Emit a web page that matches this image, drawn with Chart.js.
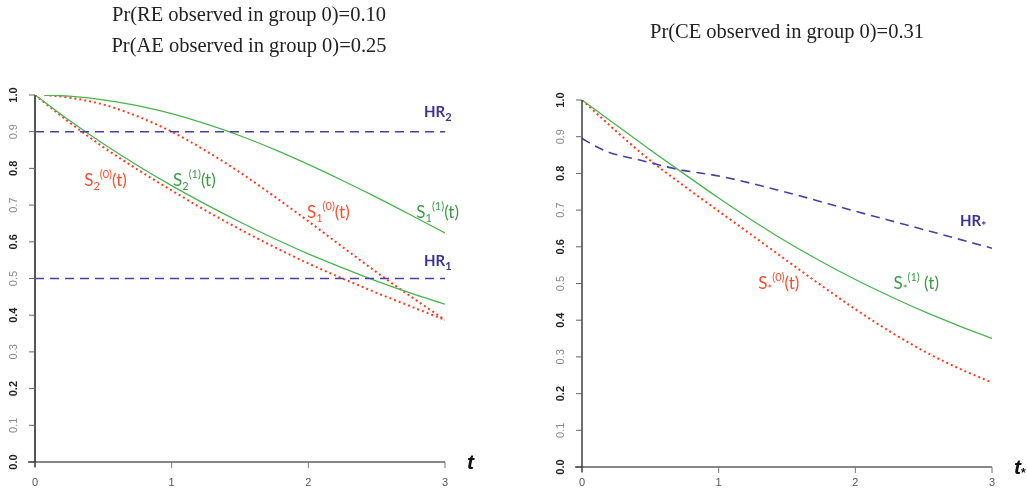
<!DOCTYPE html>
<html><head><meta charset="utf-8">
<script src="https://cdn.jsdelivr.net/npm/chart.js@4/dist/chart.umd.min.js"></script>
<style>
html,body{margin:0;padding:0;background:#fff;width:1027px;height:498px;overflow:hidden}
.box{position:absolute;top:0;height:498px}
</style></head><body>
<div class="box" style="left:0;width:510px"><canvas id="leftChart"></canvas></div>
<div class="box" style="left:520px;width:507px"><canvas id="rightChart"></canvas></div>
<script>
// ---------- data ----------
const tGrid = [0, 0.25, 0.5, 0.75, 1, 1.25, 1.5, 1.75, 2, 2.25, 2.5, 2.75, 3];
const tGridS1 = [0.07, 0.25, 0.5, 0.75, 1, 1.25, 1.5, 1.75, 2, 2.25, 2.5, 2.75, 3];
// left panel
const s1Group1 = [1, 0.997, 0.987, 0.971, 0.949, 0.921, 0.889, 0.852, 0.811, 0.767, 0.721, 0.673, 0.624];
const s1Group0 = [1, 0.993, 0.974, 0.942, 0.900, 0.848, 0.789, 0.724, 0.656, 0.586, 0.517, 0.451, 0.387];
const s2Group1 = [1, 0.931, 0.867, 0.808, 0.753, 0.702, 0.654, 0.609, 0.567, 0.529, 0.493, 0.460, 0.430];
const s2Group0 = [1, 0.926, 0.858, 0.797, 0.740, 0.685, 0.634, 0.586, 0.541, 0.500, 0.461, 0.424, 0.387];
const hrTimes = [0, 3];
const hr2Values = [0.9, 0.9];
const hr1Values = [0.5, 0.5];
// right panel
const sStarGroup1 = [1, 0.932, 0.864, 0.798, 0.733, 0.671, 0.613, 0.560, 0.511, 0.466, 0.424, 0.386, 0.350];
const sStarGroup0 = [1, 0.915, 0.835, 0.765, 0.697, 0.630, 0.562, 0.495, 0.430, 0.370, 0.316, 0.270, 0.230];
const hrStarTimes = [0, 0.1, 0.2, 0.3, 0.45, 0.7, 1, 1.5, 2, 2.5, 3];
const hrStarValues = [0.895, 0.874, 0.857, 0.847, 0.834, 0.811, 0.793, 0.748, 0.697, 0.647, 0.596];
// ticks
const xTicks = [0, 1, 2, 3];
const xTickLabels = ['0', '1', '2', '3'];
const yTicks = [0, 0.1, 0.2, 0.3, 0.4, 0.5, 0.6, 0.7, 0.8, 0.9, 1.0];
const yTickLabels = ['0.0', '0.1', '0.2', '0.3', '0.4', '0.5', '0.6', '0.7', '0.8', '0.9', '1.0'];

// ---------- styles ----------
const GREEN = '#48b44e', RED = '#ff3a1c', BLUE = '#4840a6';
const GREEN_T = '#3a9a47', RED_T = '#f2502f', BLUE_T = '#3b3494';
const LBL = '"Lato", "Open Sans", sans-serif';

function pts(xs, ys) { return xs.map((x, i) => ({ x: x, y: ys[i] })); }
function solid(data, color) {
  return { data, borderColor: color, borderWidth: 1.3, pointRadius: 0, fill: false, cubicInterpolationMode: 'monotone' };
}
function dotted(data, color) {
  return { data, borderColor: color, borderWidth: 2, borderDash: [2, 3], pointRadius: 0, fill: false, cubicInterpolationMode: 'monotone' };
}
function dashed(data, color) {
  return { data, borderColor: color, borderWidth: 1.6, borderDash: [9, 6], pointRadius: 0, fill: false, cubicInterpolationMode: 'monotone' };
}

function drawParts(ctx, x, y, parts, color, bold) {
  let cx = x;
  parts.forEach(p => {
    ctx.font = (bold ? 'bold ' : '') + p.size + 'px ' + LBL;
    ctx.fillStyle = color;
    ctx.textAlign = 'left';
    ctx.textBaseline = 'alphabetic';
    ctx.fillText(p.t, cx, y + (p.dy || 0));
    cx += ctx.measureText(p.t).width;
  });
}

function overlayPlugin(cfg) {
  return {
    id: 'overlay',
    afterDraw(chart) {
      const ctx = chart.ctx, xs = chart.scales.x, ys = chart.scales.y;
      const x0 = xs.getPixelForValue(xTicks[0]);
      const y0 = ys.getPixelForValue(yTicks[0]);
      const xEnd = xs.getPixelForValue(xTicks[xTicks.length - 1]);
      const yTop = ys.getPixelForValue(yTicks[yTicks.length - 1]);
      ctx.save();
      // y axis
      ctx.strokeStyle = cfg.yAxisColor; ctx.lineWidth = cfg.yAxisWidth;
      ctx.beginPath(); ctx.moveTo(x0, yTop); ctx.lineTo(x0, y0 + 5); ctx.stroke();
      ctx.lineWidth = 1; ctx.strokeStyle = '#666';
      yTicks.forEach((v, i) => {
        const py = ys.getPixelForValue(v);
        ctx.beginPath(); ctx.moveTo(x0 - 6, py); ctx.lineTo(x0, py); ctx.stroke();
        ctx.save();
        ctx.translate(x0 - 21, py);
        ctx.rotate(-Math.PI / 2);
        const b = i % 2 === 0;
        ctx.font = (b ? 'bold ' : '') + '11px "Liberation Sans", Arial, sans-serif';
        ctx.fillStyle = b ? '#222' : '#8a8a8a';
        ctx.textAlign = 'center'; ctx.textBaseline = 'middle';
        ctx.fillText(yTickLabels[i], 0, 0);
        ctx.restore();
      });
      // x axis
      ctx.strokeStyle = '#111'; ctx.lineWidth = 1.2;
      ctx.beginPath(); ctx.moveTo(x0 - 7, y0); ctx.lineTo(xEnd, y0); ctx.stroke();
      ctx.strokeStyle = '#777'; ctx.lineWidth = 1;
      xTicks.forEach((v, i) => {
        const px = xs.getPixelForValue(v);
        ctx.beginPath(); ctx.moveTo(px, y0); ctx.lineTo(px, y0 + 6); ctx.stroke();
        ctx.font = '11px "Liberation Sans", Arial, sans-serif';
        ctx.fillStyle = '#555'; ctx.textAlign = 'center'; ctx.textBaseline = 'middle';
        ctx.fillText(xTickLabels[i], px, y0 + cfg.xLabelOffset);
      });
      // axis title
      ctx.font = 'italic bold 21px "Liberation Sans", Arial, sans-serif';
      ctx.fillStyle = '#111'; ctx.textAlign = 'left'; ctx.textBaseline = 'middle';
      ctx.fillText('t', xEnd + 22, y0 + 1);
      if (cfg.star) {
        const w = ctx.measureText('t').width;
        ctx.font = 'bold 12px "Liberation Sans", Arial, sans-serif';
        ctx.fillText('*', xEnd + 22 + w, y0 + 7);
      }
      // titles
      ctx.font = '20.5px "Liberation Serif", "Times New Roman", serif';
      ctx.fillStyle = '#222'; ctx.textAlign = 'center'; ctx.textBaseline = 'alphabetic';
      cfg.titles.forEach(tt => ctx.fillText(tt.text, tt.x, tt.y));
      // curve labels
      cfg.labels.forEach(l => {
        drawParts(ctx, xs.getPixelForValue(l.t), ys.getPixelForValue(l.v), l.parts, l.color, l.bold);
      });
      ctx.restore();
    }
  };
}

function baseOptions(padding) {
  return {
    responsive: true, maintainAspectRatio: false, animation: false,
    layout: { padding },
    plugins: { legend: { display: false }, tooltip: { enabled: false }, title: { display: false } },
    scales: {
      x: { type: 'linear', min: 0, max: 3, display: false },
      y: { type: 'linear', min: 0, max: 1, display: false }
    }
  };
}

const big = 17, sm = 11;
function sLabel(sub, sup, tail) {
  return [
    { t: 'S', size: big },
    { t: sub, size: sm, dy: 4 },
    { t: sup, size: sm, dy: -8 },
    { t: tail, size: big }
  ];
}

new Chart(document.getElementById('leftChart'), {
  type: 'line',
  data: {
    datasets: [
      dashed(pts(hrTimes, hr2Values), BLUE),
      dashed(pts(hrTimes, hr1Values), BLUE),
      solid(pts(tGridS1, s1Group1), GREEN),
      solid(pts(tGrid, s2Group1), GREEN),
      dotted(pts(tGridS1, s1Group0), RED),
      dotted(pts(tGrid, s2Group0), RED)
    ]
  },
  options: baseOptions({ left: 35, right: 65, top: 95, bottom: 36 }),
  plugins: [overlayPlugin({
    yAxisColor: '#555', yAxisWidth: 2, xLabelOffset: 21, star: false,
    titles: [
      { text: 'Pr(RE observed in group 0)=0.10', x: 249, y: 21 },
      { text: 'Pr(AE observed in group 0)=0.25', x: 249, y: 52 }
    ],
    labels: [
      { t: 0.36, v: 0.753, parts: sLabel('2', '(0)', '(t)'), color: RED_T },
      { t: 1.01, v: 0.753, parts: sLabel('2', '(1)', '(t)'), color: GREEN_T },
      { t: 1.99, v: 0.665, parts: sLabel('1', '(0)', '(t)'), color: RED_T },
      { t: 2.79, v: 0.665, parts: sLabel('1', '(1)', '(t)'), color: GREEN_T },
      { t: 2.846, v: 0.94, parts: [{ t: 'HR', size: 15 }, { t: '2', size: 11, dy: 4 }], color: BLUE_T, bold: true },
      { t: 2.846, v: 0.534, parts: [{ t: 'HR', size: 15 }, { t: '1', size: 11, dy: 4 }], color: BLUE_T, bold: true }
    ]
  })]
});

new Chart(document.getElementById('rightChart'), {
  type: 'line',
  data: {
    datasets: [
      dashed(pts(hrStarTimes, hrStarValues), BLUE),
      solid(pts(tGrid, sStarGroup1), GREEN),
      dotted(pts(tGrid, sStarGroup0), RED)
    ]
  },
  options: baseOptions({ left: 62, right: 35, top: 100, bottom: 31 }),
  plugins: [overlayPlugin({
    yAxisColor: '#222', yAxisWidth: 1.3, xLabelOffset: 16, star: true,
    titles: [
      { text: 'Pr(CE observed in group 0)=0.31', x: 267, y: 38 }
    ],
    labels: [
      { t: 1.29, v: 0.485, parts: sLabel('*', '(0)', '(t)'), color: RED_T },
      { t: 2.28, v: 0.485, parts: [{ t: 'S', size: big }, { t: '*', size: sm, dy: 4 }, { t: '(1)', size: sm, dy: -8 }, { t: ' (t)', size: big }], color: GREEN_T },
      { t: 2.766, v: 0.657, parts: [{ t: 'HR', size: 15 }, { t: '*', size: 12, dy: 4 }], color: BLUE_T, bold: true }
    ]
  })]
});
</script>
</body></html>
